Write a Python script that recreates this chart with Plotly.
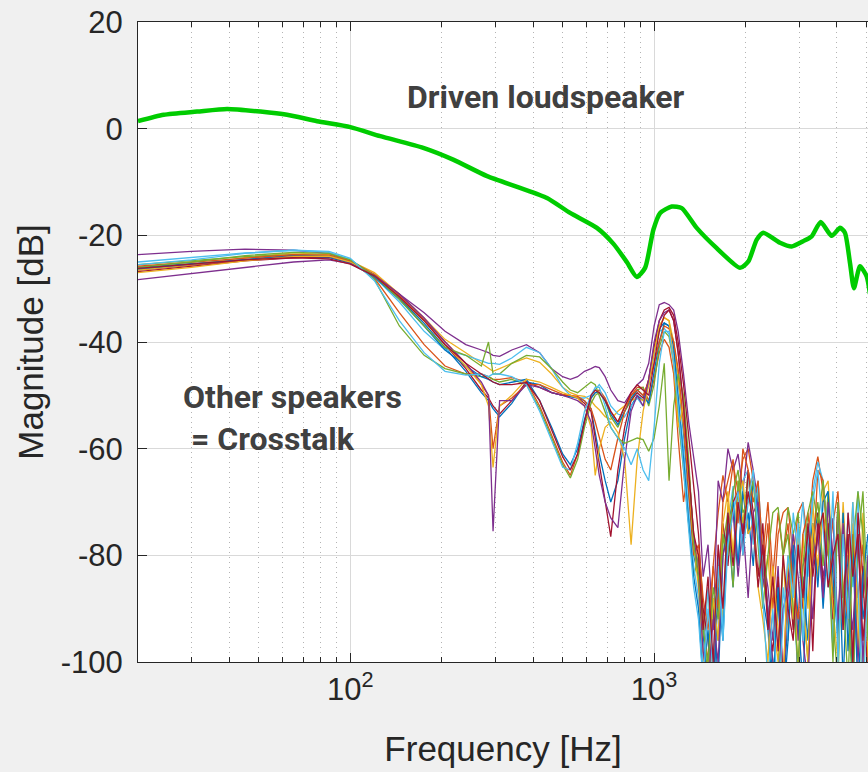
import numpy as np
import plotly.graph_objects as go

# ---------------- data ----------------
# driven loudspeaker (green)
F_DRIVEN = [20, 24.3, 31.3, 39.3, 50.6, 61.9, 77.7, 100, 125.5, 173.8, 218, 282, 362, 444, 529, 648,
            735, 813, 877, 934, 995, 1047, 1143, 1233, 1381, 1607, 1918, 2043, 2177, 2288, 2597, 2837,
            3097, 3302, 3535, 3843, 4093, 4248, 4415, 4548, 4762, 5010, 5135]
DB_DRIVEN = [1.4, 2.6, 3.2, 3.7, 3.2, 2.6, 1.4, 0.3, -1.4, -3.6, -5.8, -8.9, -11.1, -13.0, -15.8, -18.6,
             -21.6, -25.0, -27.8, -26.1, -18.9, -15.8, -14.6, -14.9, -18.6, -22.4, -26.1, -24.9, -20.8,
             -19.5, -21.4, -22.1, -21.1, -20.2, -17.5, -20.1, -18.6, -19.5, -25.2, -29.9, -25.8, -27.7, -31.0]

# crosstalk frequency grid
F_LOW = [20, 30, 45, 65, 85, 100, 120, 145, 175, 205, 240, 270, 285, 295, 310, 340, 380, 420, 460, 500,
         530, 560, 590, 620, 640, 660, 690, 720, 760, 800, 840, 880, 920, 960, 1000, 1040, 1080, 1120,
         1160, 1200, 1250, 1300, 1350]
F_HIGH = [1400, 1450, 1505, 1565, 1625, 1685, 1750, 1820, 1890, 1960, 2040, 2120, 2200, 2280, 2370,
          2460, 2560, 2660, 2760, 2870, 2980, 3090, 3210, 3330, 3460, 3600, 3740, 3880, 4030, 4190,
          4350, 4510, 4690, 4870, 5060]

BLUE_A_LO = [-26.0, -25.3, -24.5, -24.0, -24.2, -25.2, -27.8, -31.8, -36.5, -41.0, -45.5, -49.5, -51.0, -52.5, -54.0, -51.5, -47.5, -48.0, -49.5, -50.0, -50.2, -50.5, -51.0, -52.5, -57.0, -61.0, -66.0, -70.0, -66.0, -58.0, -52.0, -50.0, -51.0, -48.0, -42.0, -37.5, -36.4, -37.0, -40.0, -47.0, -57.0, -69.0, -80.0]
BLUE_A_HI = [-84, -96, -106, -88, -104, -80, -74, -86, -70, -78, -72, -82, -68, -80, -90, -104, -88, -106, -92, -80, -106, -84, -96, -78, -72, -90, -76, -98, -72, -104, -80, -106, -74, -92, -84]

ORANGE_A_LO = [-26.5, -25.6, -24.6, -23.8, -23.8, -24.8, -28.0, -34.5, -40.5, -44.5, -46.0, -46.0, -46.5, -47.0, -47.0, -46.7, -47.5, -52.0, -57.5, -62.5, -65.0, -61.0, -55.0, -50.5, -49.5, -49.0, -50.5, -53.0, -55.0, -52.0, -50.0, -48.5, -48.5, -51.0, -47.0, -42.0, -39.5, -41.0, -46.0, -58.0, -70.0, -63.0, -78.0]
ORANGE_A_HI = [-80, -92, -100, -82, -72, -65, -70, -63, -68, -62, -60, -66, -72, -84, -74, -90, -76, -72, -71, -80, -72, -70, -78, -66, -61.5, -68, -74, -88, -72, -94, -76, -100, -78, -88, -80]

YELLOW_A_LO = [-26.5, -25.5, -24.2, -23.3, -23.6, -24.8, -27.0, -31.0, -35.5, -39.5, -42.0, -44.0, -45.0, -45.5, -45.0, -44.0, -43.0, -43.8, -46.0, -48.5, -49.5, -50.0, -50.2, -51.0, -52.0, -52.7, -54.0, -54.5, -53.0, -52.0, -51.0, -50.5, -51.0, -47.0, -41.0, -37.0, -35.5, -36.0, -40.0, -47.0, -56.0, -66.0, -76.0]
YELLOW_A_HI = [-82, -94, -86, -104, -84, -92, -70, -80, -66, -74, -65, -76, -70, -86, -80, -92, -100, -80, -96, -76, -104, -76, -90, -70, -84, -68, -66, -82, -94, -70, -88, -74, -98, -72, -100]

PURPLE_A_LO = [-23.6, -23.0, -22.6, -22.8, -23.4, -24.8, -27.5, -31.0, -34.5, -38.0, -40.5, -41.5, -42.0, -42.5, -42.7, -41.5, -40.5, -42.0, -45.0, -46.5, -47.0, -46.5, -45.5, -45.0, -44.6, -44.8, -46.5, -49.0, -51.0, -51.4, -49.5, -48.0, -47.0, -44.0, -37.0, -33.0, -32.6, -33.0, -34.0, -38.0, -46.0, -55.0, -62.0]
PURPLE_A_HI = [-68, -84, -78, -94, -66, -70, -60, -64, -61, -68, -58.8, -64, -70, -80, -86, -96, -82, -104, -88, -79, -96, -82, -78, -92, -74, -84, -78, -73, -94, -75, -88, -78, -100, -82, -92]

GREEN_A_LO = [-25.5, -24.8, -24.0, -23.6, -23.8, -24.7, -28.2, -37.0, -42.5, -45.0, -46.0, -46.5, -46.5, -47.0, -47.5, -47.0, -48.0, -52.5, -58.0, -63.0, -65.5, -62.0, -56.0, -51.5, -50.0, -49.5, -51.0, -54.0, -56.0, -53.0, -51.0, -49.0, -48.5, -52.0, -48.0, -41.0, -38.0, -39.0, -44.0, -54.0, -64.0, -74.0, -84.0]
GREEN_A_HI = [-80, -92, -104, -88, -96, -78, -72, -86, -66, -76, -64, -70, -68, -82, -90, -100, -104, -80, -71, -76, -72, -88, -100, -76, -70, -82, -68, -92, -104, -72, -88, -106, -78, -68, -90]

LBLUE_A_LO = [-25.5, -24.6, -23.4, -22.8, -23.2, -24.5, -27.8, -32.5, -38.0, -41.5, -42.5, -43.5, -44.0, -44.0, -44.2, -43.0, -41.0, -42.0, -45.0, -48.5, -50.0, -50.5, -50.5, -50.0, -49.0, -48.0, -49.5, -52.0, -53.5, -54.0, -52.0, -50.5, -52.0, -48.0, -42.0, -38.0, -37.5, -38.5, -42.0, -50.0, -60.0, -72.0, -82.0]
LBLUE_A_HI = [-88, -100, -86, -104, -80, -94, -74, -67, -82, -66, -64, -78, -66, -80, -92, -100, -106, -86, -96, -72, -80, -70, -84, -68, -62.5, -66, -76, -98, -70, -94, -72, -86, -68, -104, -78]

DRED_A_LO = [-26.8, -25.8, -24.8, -24.2, -24.0, -25.0, -27.5, -31.5, -36.0, -40.5, -45.0, -49.0, -50.5, -52.0, -53.5, -51.0, -47.5, -48.5, -49.5, -50.0, -50.0, -50.5, -51.5, -53.0, -58.0, -63.0, -70.0, -76.5, -64.0, -56.0, -51.0, -49.5, -50.5, -47.0, -41.0, -36.0, -34.0, -33.5, -35.0, -40.0, -48.0, -58.0, -68.0]
DRED_A_HI = [-76, -90, -96, -106, -84, -74, -82, -70, -68, -80, -64, -72, -84, -74, -92, -98, -84, -104, -82, -94, -78, -90, -76, -98, -72, -86, -74, -92, -70, -88, -76, -100, -72, -84, -104]

BLUE_B_LO = [-26.3, -25.4, -24.4, -23.7, -23.9, -25.0, -27.8, -32.0, -37.0, -41.5, -44.5, -46.5, -47.0, -47.5, -48.0, -47.5, -47.0, -51.0, -56.0, -61.0, -63.0, -60.0, -54.5, -50.5, -49.5, -49.5, -51.0, -53.5, -55.5, -53.0, -50.5, -49.0, -50.0, -51.5, -46.0, -40.0, -36.5, -37.0, -41.0, -50.0, -62.0, -74.0, -84.0]
BLUE_B_HI = [-90, -104, -94, -108, -86, -96, -74, -70, -82, -68, -76, -66, -72, -88, -94, -106, -86, -108, -96, -78, -92, -104, -80, -74, -86, -70, -68, -84, -96, -72, -98, -78, -106, -84, -76]

ORANGE_B_LO = [-25.8, -25.0, -24.2, -23.6, -23.7, -24.8, -27.3, -31.2, -35.8, -40.0, -44.0, -48.0, -50.0, -60.0, -52.0, -50.5, -48.0, -48.0, -49.0, -49.8, -50.0, -50.2, -51.0, -52.5, -55.0, -58.0, -62.0, -64.0, -58.0, -53.0, -50.0, -49.0, -50.0, -47.5, -44.0, -40.0, -37.0, -37.5, -40.0, -45.0, -55.0, -68.0, -80.0]
ORANGE_B_HI = [-78, -88, -94, -82, -90, -70, -66, -62, -74, -60, -64, -70, -66, -80, -70, -84, -72, -80, -74, -86, -92, -76, -72, -82, -64, -66, -80, -74, -68, -86, -92, -76, -88, -78, -94]

YELLOW_B_LO = [-27.0, -26.0, -24.8, -24.0, -23.9, -25.0, -27.5, -31.5, -36.0, -40.5, -44.5, -48.0, -52.0, -63.5, -52.0, -50.0, -47.0, -47.5, -48.5, -49.5, -50.0, -50.5, -52.0, -56.0, -65.0, -60.0, -56.0, -55.0, -57.0, -62.0, -78.0, -62.0, -53.0, -48.0, -42.0, -37.0, -35.4, -36.0, -44.0, -56.0, -52.0, -66.0, -78.0]
YELLOW_B_HI = [-86, -98, -106, -88, -96, -74, -68, -80, -70, -66, -76, -74, -86, -92, -100, -82, -94, -104, -80, -92, -76, -88, -100, -74, -82, -72, -78, -90, -100, -74, -86, -70, -92, -104, -82]

PURPLE_B_LO = [-28.3, -27.2, -26.0, -25.0, -24.6, -25.3, -27.5, -31.0, -35.5, -40.0, -44.0, -47.5, -50.0, -75.5, -51.0, -51.0, -48.0, -48.5, -49.5, -50.0, -50.5, -51.0, -52.0, -55.0, -60.0, -65.0, -70.0, -73.0, -74.8, -62.0, -53.0, -50.0, -52.0, -47.0, -40.0, -36.0, -34.5, -34.0, -36.0, -42.0, -52.0, -64.0, -76.0]
PURPLE_B_HI = [-84, -98, -104, -92, -100, -80, -76, -72, -84, -74, -88, -72, -70, -84, -90, -100, -106, -90, -86, -76, -84, -96, -104, -82, -76, -88, -70, -80, -92, -74, -86, -94, -76, -100, -80]

GREEN_B_LO = [-26.0, -25.0, -23.8, -23.2, -23.4, -24.6, -27.6, -32.0, -37.0, -41.0, -42.5, -44.5, -40.0, -46.0, -46.0, -44.0, -42.5, -42.8, -45.0, -47.5, -49.0, -49.5, -48.5, -47.5, -48.0, -50.0, -53.0, -56.0, -58.0, -59.0, -58.5, -58.0, -58.3, -60.5, -58.0, -52.0, -44.0, -66.0, -52.0, -46.0, -50.0, -62.0, -78.0]
GREEN_B_HI = [-84, -94, -100, -86, -92, -76, -80, -68, -64, -72, -70, -66, -78, -90, -80, -72, -71, -80, -76, -90, -100, -82, -72, -68, -74, -66, -78, -100, -70, -86, -104, -78, -68, -76, -96]

LBLUE_B_LO = [-25.0, -24.2, -23.3, -22.8, -23.0, -24.3, -28.5, -36.0, -42.0, -45.5, -46.2, -46.0, -46.5, -46.0, -46.0, -46.5, -48.0, -53.0, -58.5, -63.5, -64.0, -59.0, -53.0, -50.0, -48.5, -48.5, -52.0, -56.0, -58.0, -60.0, -63.0, -60.0, -64.0, -66.0, -56.0, -44.0, -38.0, -38.0, -44.0, -52.0, -64.0, -76.0, -86.0]
LBLUE_B_HI = [-92, -104, -90, -100, -82, -96, -78, -72, -68, -80, -70, -64, -76, -88, -104, -90, -108, -92, -80, -88, -74, -96, -78, -70, -64, -76, -86, -68, -100, -76, -92, -70, -86, -108, -84]

DRED_B_LO = [-26.2, -25.4, -24.6, -24.2, -24.4, -25.4, -27.6, -31.5, -36.0, -40.5, -44.0, -46.0, -47.0, -47.5, -48.0, -48.0, -47.6, -51.0, -56.5, -61.5, -64.0, -61.0, -55.0, -50.0, -49.0, -49.5, -51.0, -53.0, -55.0, -52.0, -49.5, -48.0, -49.0, -50.0, -44.0, -38.0, -35.0, -34.0, -36.0, -42.0, -52.0, -64.0, -76.0]
DRED_B_HI = [-80, -94, -84, -100, -78, -90, -72, -82, -70, -76, -68, -74, -86, -78, -94, -84, -98, -80, -90, -96, -78, -88, -74, -84, -76, -72, -86, -80, -76, -94, -72, -84, -76, -96, -84]

CROSSTALK = [
    (BLUE_A_LO, BLUE_A_HI, '#0072BD'),
    (ORANGE_A_LO, ORANGE_A_HI, '#D95319'),
    (YELLOW_A_LO, YELLOW_A_HI, '#EDB120'),
    (PURPLE_A_LO, PURPLE_A_HI, '#7E2F8E'),
    (GREEN_A_LO, GREEN_A_HI, '#77AC30'),
    (LBLUE_A_LO, LBLUE_A_HI, '#4DBEEE'),
    (DRED_A_LO, DRED_A_HI, '#A2142F'),
    (BLUE_B_LO, BLUE_B_HI, '#0072BD'),
    (ORANGE_B_LO, ORANGE_B_HI, '#D95319'),
    (YELLOW_B_LO, YELLOW_B_HI, '#EDB120'),
    (PURPLE_B_LO, PURPLE_B_HI, '#7E2F8E'),
    (GREEN_B_LO, GREEN_B_HI, '#77AC30'),
    (LBLUE_B_LO, LBLUE_B_HI, '#4DBEEE'),
    (DRED_B_LO, DRED_B_HI, '#A2142F'),
]

Y_TICKS = [-100, -80, -60, -40, -20, 0, 20]
Y_TICKTEXT = ['-100', '-80', '-60', '-40', '-20', '0', '20']
X_TICKS = [100, 1000]
X_TICKTEXT = ['10<sup>2</sup>', '10<sup>3</sup>']
X_MINOR = [20, 30, 40, 50, 60, 70, 80, 90, 200, 300, 400, 500, 600, 700, 800, 900, 2000, 3000, 4000, 5000]

# ---------------- figure ----------------
fig = go.Figure()
freq = F_LOW + F_HIGH
for lo, hi, col in CROSSTALK:
    assert len(lo) == len(F_LOW) and len(hi) == len(F_HIGH)
    fig.add_trace(go.Scatter(x=freq, y=lo + hi, mode='lines',
                             line=dict(color=col, width=1.3), hoverinfo='skip'))

fig.add_trace(go.Scatter(x=F_DRIVEN, y=DB_DRIVEN, mode='lines',
                         line=dict(color='#00CC00', width=4.5, shape='spline', smoothing=0.6),
                         hoverinfo='skip'))

AXC = '#262626'
fig.update_layout(
    width=868, height=772,
    margin=dict(l=138, r=0, t=22, b=110, pad=0),
    paper_bgcolor='#f0f0f0', plot_bgcolor='white',
    showlegend=False,
    font=dict(family='Liberation Sans, Arial, sans-serif', color=AXC),
)
fig.update_xaxes(
    type='log', range=[np.log10(20), np.log10(5060)],
    tickmode='array', tickvals=X_TICKS, ticktext=X_TICKTEXT,
    ticks='inside', ticklen=9, tickwidth=1, tickcolor=AXC,
    showline=True, linecolor=AXC, linewidth=1.2, mirror='ticks',
    showgrid=True, gridcolor='#d9d9d9', gridwidth=1, zeroline=False,
    tickfont=dict(size=31, color=AXC),
    title=dict(text='Frequency [Hz]', font=dict(size=35, color=AXC), standoff=30),
    minor=dict(tickmode='array', tickvals=X_MINOR, ticks='inside', ticklen=5, tickcolor=AXC,
               showgrid=True, gridcolor='#b4b4b4', griddash='1px,4px', gridwidth=1),
)
fig.update_yaxes(
    range=[-100, 20], tickmode='array', tickvals=Y_TICKS, ticktext=Y_TICKTEXT,
    ticks='inside', ticklen=9, tickwidth=1, tickcolor=AXC,
    showline=True, linecolor=AXC, linewidth=1.2, mirror=False,
    showgrid=True, gridcolor='#d9d9d9', gridwidth=1, zeroline=False,
    tickfont=dict(size=31, color=AXC), ticklabelstandoff=8,
    title=dict(text='Magnitude [dB]', font=dict(size=35, color=AXC), standoff=6),
)

ANN_FONT = dict(family='Roboto, Lato, sans-serif', size=32, color='#404040', weight='bold')
fig.add_annotation(x=np.log10(441), y=6.0, xref='x', yref='y', text='Driven loudspeaker',
                   showarrow=False, font=ANN_FONT, xanchor='center', yanchor='middle')
fig.add_annotation(x=np.log10(27.8), y=-54.2, xref='x', yref='y',
                   text='Other speakers<br>\u00a0= Crosstalk', align='left',
                   showarrow=False, font=ANN_FONT, xanchor='left', yanchor='middle')

fig.write_html('out.html')
